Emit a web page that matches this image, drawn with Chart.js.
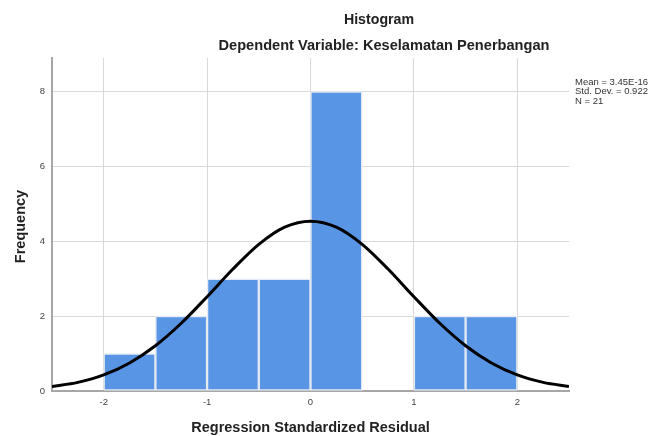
<!DOCTYPE html>
<html>
<head>
<meta charset="utf-8">
<script src="https://cdn.jsdelivr.net/npm/chart.js@4"></script>
<style>
html,body{margin:0;padding:0;background:#fff;}
#wrap{width:665px;height:436px;position:relative;}
</style>
</head>
<body>
<div id="wrap"><canvas id="c" width="665" height="436"></canvas></div>
<script>
// Histogram bins (centers) and frequencies
const binCenters = [-1.75, -1.25, -0.75, -0.25, 0.25, 0.75, 1.25, 1.75];
const frequencies = [1, 2, 3, 3, 8, 0, 2, 2];
// Normal curve points
const curveX = [-2.5, -2.25, -2, -1.75, -1.5, -1.25, -1, -0.75, -0.5, -0.25, 0, 0.25, 0.5, 0.75, 1, 1.25, 1.5, 1.75, 2, 2.25, 2.5];
const curveY = [0.12, 0.23, 0.43, 0.75, 1.21, 1.81, 2.52, 3.26, 3.92, 4.38, 4.54, 4.38, 3.92, 3.26, 2.52, 1.81, 1.21, 0.75, 0.43, 0.23, 0.12];
const xTicks = [-2, -1, 0, 1, 2];
const yTicks = [0, 2, 4, 6, 8];
const titleText = "Histogram";
const subtitleText = "Dependent Variable: Keselamatan Penerbangan";
const xTitle = "Regression Standardized Residual";
const yTitle = "Frequency";
const statsLines = ["Mean = 3.45E-16", "Std. Dev. = 0.922", "N = 21"];

const FONT = "'Liberation Sans', Arial, sans-serif";

const textPlugin = {
  id: 'texts',
  afterDraw(chart) {
    const ctx = chart.ctx;
    const a = chart.chartArea;
    ctx.save();
    ctx.fillStyle = '#222';
    ctx.textAlign = 'center';
    ctx.textBaseline = 'middle';
    ctx.font = "bold 14.2px " + FONT;
    ctx.fillText(titleText, 379, 20);
    ctx.font = "bold 14.6px " + FONT;
    ctx.fillText(subtitleText, 384, 46);
    ctx.font = "bold 14.5px " + FONT;
    ctx.fillText(xTitle, (a.left + a.right) / 2, 428);
    ctx.save();
    ctx.translate(21, (a.top + a.bottom) / 2 + 2);
    ctx.rotate(-Math.PI / 2);
    ctx.fillText(yTitle, 0, 0);
    ctx.restore();
    ctx.font = "9.5px " + FONT;
    ctx.textAlign = 'left';
    ctx.fillStyle = '#333';
    statsLines.forEach((t, i) => ctx.fillText(t, 575, 82.5 + i * 9.3));
    ctx.restore();
  }
};

new Chart(document.getElementById('c'), {
  data: {
    datasets: [
      {
        type: 'line',
        data: curveX.map((x, i) => ({x: x, y: curveY[i]})),
        borderColor: '#000',
        borderWidth: 3,
        pointRadius: 0,
        cubicInterpolationMode: 'monotone',
        fill: false,
        order: 0
      },
      {
        type: 'bar',
        data: binCenters.map((x, i) => ({x: x, y: frequencies[i]})),
        backgroundColor: '#5895e4',
        borderColor: '#e4eaf3',
        borderWidth: 1.5,
        borderSkipped: false,
        barPercentage: 1,
        categoryPercentage: 1,
        order: 1
      }
    ]
  },
  options: {
    responsive: false,
    animation: false,
    layout: {padding: {left: 0, right: 96, top: 58, bottom: 0}},
    plugins: {legend: {display: false}, tooltip: {enabled: false}, title: {display: false}},
    scales: {
      x: {
        type: 'linear',
        min: -2.5,
        max: 2.5,
        offset: false,
        afterBuildTicks: s => { s.ticks = xTicks.map(v => ({value: v})); },
        afterFit: s => { s.height = 45; },
        grid: {color: '#d9d9d9', lineWidth: 1, drawTicks: false, offset: false},
        border: {color: '#a6a6a6', width: 2},
        ticks: {color: '#444', font: {size: 9.5, family: FONT}, padding: 6, callback: v => String(v)}
      },
      y: {
        type: 'linear',
        min: 0,
        max: 8.9,
        afterBuildTicks: s => { s.ticks = yTicks.map(v => ({value: v})); },
        afterFit: s => { s.width = 52; },
        grid: {color: '#d9d9d9', lineWidth: 1, drawTicks: false},
        border: {color: '#a6a6a6', width: 2},
        ticks: {color: '#444', font: {size: 9.5, family: FONT}, padding: 7, callback: v => String(v)}
      }
    }
  },
  plugins: [textPlugin]
});
</script>
</body>
</html>
